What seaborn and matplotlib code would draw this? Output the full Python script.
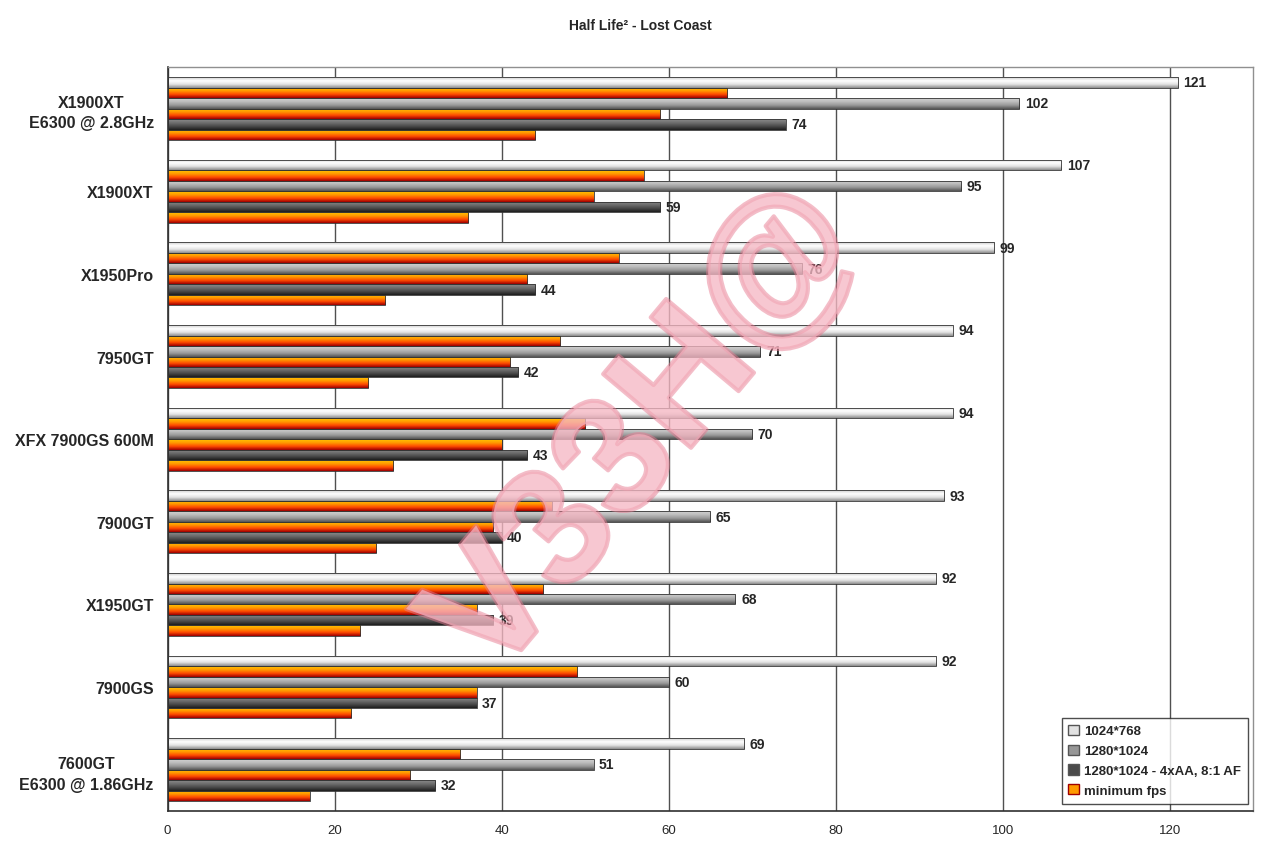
import numpy as np
import pandas as pd
import seaborn as sns
import matplotlib.pyplot as plt
import matplotlib.patheffects as pe
from matplotlib.colors import LinearSegmentedColormap
from matplotlib.patches import Patch

cards = ["X1900XT\nE6300 @ 2.8GHz", "X1900XT", "X1950Pro", "7950GT", "XFX 7900GS 600M",
         "7900GT", "X1950GT", "7900GS", "7600GT\nE6300 @ 1.86GHz"]
res_1024 = [121, 107, 99, 94, 94, 93, 92, 92, 69]
min_1024 = [67, 57, 54, 47, 50, 46, 45, 49, 35]
res_1280 = [102, 95, 76, 71, 70, 65, 68, 60, 51]
min_1280 = [59, 51, 43, 41, 40, 39, 37, 37, 29]
res_aa = [74, 59, 44, 42, 43, 40, 39, 37, 32]
min_aa = [44, 36, 26, 24, 27, 25, 23, 22, 17]

series = ["1024*768", "min a", "1280*1024", "min b", "1280*1024 - 4xAA, 8:1 AF", "min c"]
values = [res_1024, min_1024, res_1280, min_1280, res_aa, min_aa]

df = pd.DataFrame({
    "card": [c for s in series for c in cards],
    "series": [s for s in series for c in cards],
    "fps": [v for vals in values for v in vals],
})

grad = {
    "light": ["#cfcfcf", "#ffffff", "#e2e2e2", "#8e8e8e"],
    "mid": ["#d2d2d2", "#bcbcbc", "#979797", "#555555"],
    "dark": ["#8c8c8c", "#6e6e6e", "#4a4a4a", "#1e1e1e"],
    "orange": ["#ffc400", "#ff9a00", "#ff4a00", "#a00000"],
}
kinds = ["light", "orange", "mid", "orange", "dark", "orange"]
palette = {s: grad[k][1] for s, k in zip(series, kinds)}

sns.set_style("white")
plt.rcParams["font.family"] = ["Liberation Sans", "DejaVu Sans"]

fig = plt.figure(figsize=(12.8, 8.53), dpi=100)
ax = fig.add_axes([0.131, 0.048, 0.848, 0.872])

sns.barplot(data=df, y="card", x="fps", hue="series", hue_order=series,
            order=cards, palette=palette, width=0.76, orient="h",
            legend=False, edgecolor="#333333", linewidth=0.6, ax=ax, saturation=1)

ax.set_xlim(0, 130)
ylim = ax.get_ylim()

# gradient fill on each bar
for cont, k in zip(ax.containers, kinds):
    cmap = LinearSegmentedColormap.from_list(k, grad[k])
    g = cmap(np.linspace(0, 1, 32))[:, :3].reshape(32, 1, 3)
    for p in cont.patches:
        x0, y0 = p.get_x(), p.get_y()
        w, h = p.get_width(), p.get_height()
        im = ax.imshow(g, extent=(x0, x0 + w, y0 + h, y0), aspect="auto",
                       origin="upper", zorder=p.get_zorder() + 0.1)
        im.set_clip_path(p)
    for p in cont.patches:
        p.set_zorder(p.get_zorder() + 0.2)
        p.set_facecolor("none")

ax.set_xlim(0, 130)
ax.set_ylim(ylim)

# value labels (not for minimum fps)
for i, cont in enumerate(ax.containers):
    if i % 2 == 0:
        ax.bar_label(cont, padding=4, fontsize=10, fontweight="bold", zorder=5)

ax.set_xlabel("")
ax.set_ylabel("")
ax.set_xticks(range(0, 121, 20))
ax.tick_params(axis="x", labelsize=9.5, length=4, color="#303030", direction="out", pad=5)
ax.xaxis.grid(True, color="#505050", linewidth=1)
ax.set_axisbelow(True)

ax.tick_params(axis="y", length=0, pad=10)
ax.set_yticks(range(len(cards)))
ax.set_yticklabels(cards, fontsize=11.5, fontweight="bold",
                   multialignment="center", linespacing=1.45)
ax.set_yticks(np.arange(-0.5, len(cards), 1), minor=True)
ax.tick_params(axis="y", which="minor", length=4, color="#303030")

for side in ["left", "bottom"]:
    ax.spines[side].set_color("#303030")
    ax.spines[side].set_linewidth(1.2)
for side in ["top", "right"]:
    ax.spines[side].set_color("#909090")
    ax.spines[side].set_linewidth(1)

handles = [Patch(facecolor=grad["light"][2], edgecolor="#555555"),
           Patch(facecolor=grad["mid"][2], edgecolor="#555555"),
           Patch(facecolor=grad["dark"][2], edgecolor="#555555"),
           Patch(facecolor=grad["orange"][1], edgecolor="#a00000")]
leg = ax.legend(handles, ["1024*768", "1280*1024", "1280*1024 - 4xAA, 8:1 AF", "minimum fps"],
                loc="lower right", bbox_to_anchor=(0.995, 0.01), borderaxespad=0,
                frameon=True, fancybox=False, handlelength=0.8, handleheight=0.8,
                handletextpad=0.4, labelspacing=0.55, borderpad=0.5,
                prop={"weight": "bold", "size": 9.5})
leg.get_frame().set_edgecolor("#202020")
leg.get_frame().set_linewidth(1)
leg.set_zorder(6)

fig.text(0.5, 0.97, "Half Life² - Lost Coast", ha="center", va="center",
         fontsize=10, fontweight="bold")

fig.text(0.505, 0.49, "V33H@", ha="center", va="center", rotation=50,
         fontsize=120, fontweight="bold", color="#f6b8c4", alpha=0.55, zorder=10,
         path_effects=[pe.withStroke(linewidth=3, foreground="#e87c92", alpha=0.5)])

fig.savefig("out.png", dpi=100)
